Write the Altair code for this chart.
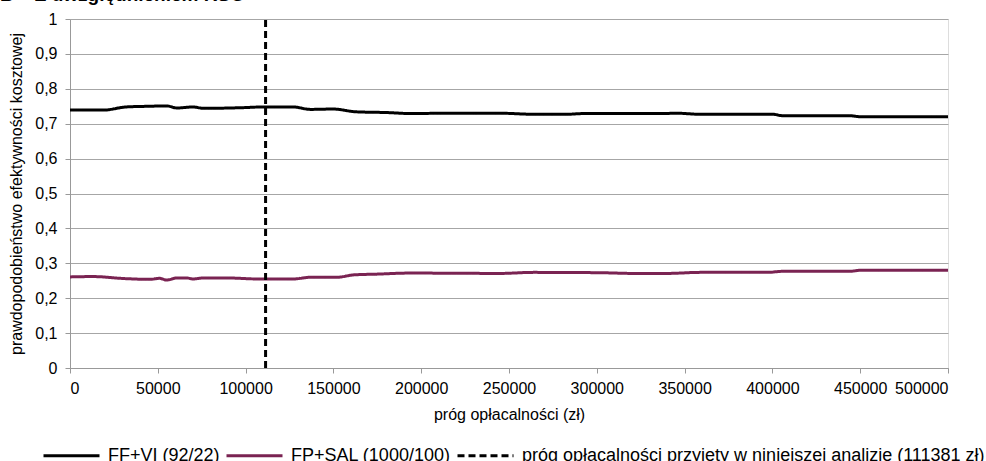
import altair as alt
import pandas as pd

# data
x_ff = [0, 19000, 32000, 45500, 55000, 61000, 70000, 76000, 98500, 110000, 127000, 137000, 150000,
        163000, 180000, 195000, 212000, 245000, 264000, 283000, 292000, 315000, 336000, 345500,
        359000, 400000, 406000, 444000, 450000, 500000]
y_ff = [0.739, 0.739, 0.748, 0.750, 0.751, 0.745, 0.748, 0.744, 0.746, 0.748, 0.748, 0.741, 0.742,
        0.734, 0.732, 0.729, 0.730, 0.730, 0.727, 0.727, 0.729, 0.729, 0.729, 0.730,
        0.727, 0.727, 0.723, 0.723, 0.720, 0.720]
x_fp = [0, 13000, 32000, 45500, 51000, 55000, 61000, 66500, 70000, 76000, 89000, 108000, 127000,
        137000, 152000, 162000, 175000, 193500, 245000, 264000, 302000, 321000, 340000, 359000,
        397000, 406000, 444000, 450000, 500000]
y_fp = [0.261, 0.262, 0.256, 0.254, 0.257, 0.252, 0.258, 0.258, 0.255, 0.258, 0.258, 0.255, 0.255,
        0.260, 0.260, 0.267, 0.269, 0.272, 0.271, 0.274, 0.273, 0.271, 0.271, 0.274,
        0.274, 0.277, 0.277, 0.280, 0.280]
threshold = 111381
y_ticks = [0, 0.1, 0.2, 0.3, 0.4, 0.5, 0.6, 0.7, 0.8, 0.9, 1]
x_ticks = [0, 50000, 100000, 150000, 200000, 250000, 300000, 350000, 400000, 450000, 500000]

series_names = ["FF+VI (92/22)", "FP+SAL (1000/100)",
                "próg opłacalności przyjęty w niniejszej analizie (111381 zł)"]
series_colors = ["#000000", "#7a2352", "#000000"]
series_dash = [[1, 0], [1, 0], [7, 4]]
series_width = [3, 3, 2]

FONT = "Liberation Sans, sans-serif"

lines_df = pd.concat([
    pd.DataFrame({"x": x_ff, "y": y_ff, "s": series_names[0]}),
    pd.DataFrame({"x": x_fp, "y": y_fp, "s": series_names[1]}),
])
rule_df = pd.DataFrame({"x": [threshold], "y": [0.0], "y2": [1.0], "s": [series_names[2]]})

legend = alt.Legend(title=None, orient="none", legendX=-28, legendY=407,
                    direction="horizontal", symbolType="stroke", symbolSize=3136,
                    symbolStrokeWidth=3, labelFont=FONT, labelFontSize=18,
                    labelColor="#000000", columnPadding=0, symbolOffset=0,
                    labelOffset=7, labelLimit=700)
color = alt.Color("s:N", scale=alt.Scale(domain=series_names, range=series_colors), legend=legend)
dash = alt.StrokeDash("s:N", scale=alt.Scale(domain=series_names, range=series_dash), legend=legend)
width = alt.StrokeWidth("s:N", scale=alt.Scale(domain=series_names, range=series_width), legend=legend)

xaxis = alt.Axis(title="próg opłacalności (zł)", values=x_ticks,
                 grid=False, format="d", labelFont=FONT, labelFontSize=16,
                 titleFont=FONT, titleFontSize=16, titleFontWeight="normal",
                 labelColor="#000000", titleColor="#000000",
                 domainColor="#999999", tickColor="#999999", tickSize=5,
                 labelPadding=7, titlePadding=10)
yaxis = alt.Axis(title="prawdopodobieństwo efektywności kosztowej",
                 values=y_ticks, labelOverlap=False,
                 labelExpr="replace(format(datum.value, '.1~f'), '.', ',')",
                 grid=True, gridColor="#a6a6a6", labelFont=FONT, labelFontSize=16,
                 titleFont=FONT, titleFontSize=16, titleFontWeight="normal",
                 labelColor="#000000", titleColor="#000000",
                 domainColor="#999999", tickColor="#999999", tickSize=5,
                 labelPadding=8, titlePadding=10)
xscale = alt.Scale(domain=[0, 500000], nice=False)
yscale = alt.Scale(domain=[0, 1], nice=False)

lines = alt.Chart(lines_df).mark_line(interpolate="monotone").encode(
    x=alt.X("x:Q", scale=xscale, axis=xaxis),
    y=alt.Y("y:Q", scale=yscale, axis=yaxis),
    color=color, strokeDash=dash, strokeWidth=width, detail="s:N")
rule = alt.Chart(rule_df).mark_rule().encode(
    x=alt.X("x:Q", scale=xscale, axis=xaxis),
    y=alt.Y("y:Q", scale=yscale, axis=yaxis), y2="y2:Q",
    color=color, strokeDash=dash, strokeWidth=width)

title_text = "B" + "\u00a0" * 4 + "Z uwzględnieniem RSO"

chart = alt.layer(lines, rule).properties(
    width=878, height=349,
    title=alt.TitleParams(title_text, anchor="start", frame="group",
                          font=FONT, fontSize=19, fontWeight="bold",
                          color="#000000", dx=-70, offset=6),
    autosize=alt.AutoSizeParams(type="none"),
    padding={"left": 70, "top": 19, "right": 38, "bottom": 93},
).configure_view(stroke=None).configure(background="white")

chart.save("out.html", embed_options={"renderer": "svg", "actions": False})
